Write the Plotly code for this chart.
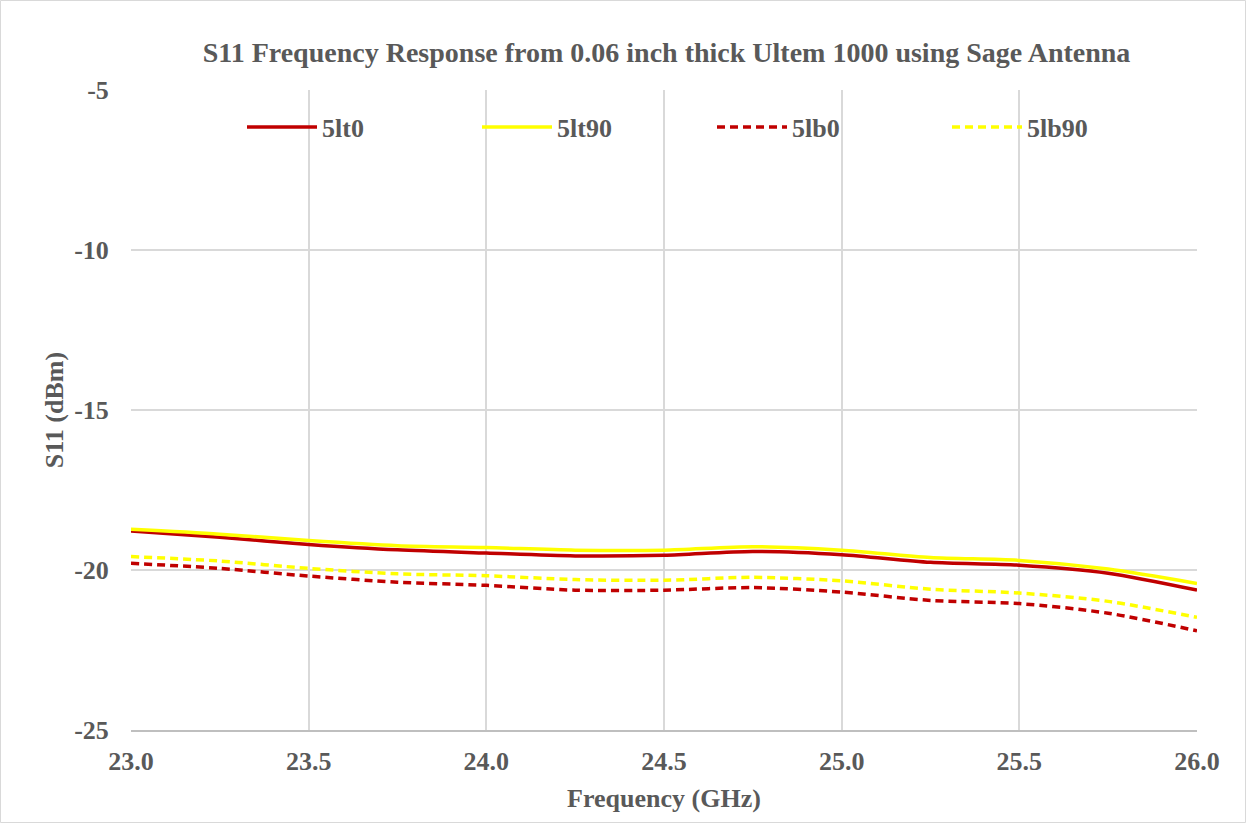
import plotly.graph_objects as go

freq = [23.0, 23.25, 23.5, 23.75, 24.0, 24.25, 24.5, 24.75, 25.0, 25.25, 25.5, 25.75, 26.0]
s11_5lt0 = [-18.78, -18.98, -19.20, -19.37, -19.47, -19.56, -19.54, -19.42, -19.52, -19.76, -19.85, -20.10, -20.63]
s11_5lt90 = [-18.73, -18.88, -19.08, -19.24, -19.30, -19.38, -19.38, -19.27, -19.38, -19.61, -19.70, -19.97, -20.42]
s11_5lb0 = [-19.79, -19.95, -20.19, -20.38, -20.48, -20.63, -20.63, -20.55, -20.69, -20.95, -21.05, -21.35, -21.90]
s11_5lb90 = [-19.58, -19.72, -19.95, -20.12, -20.18, -20.30, -20.32, -20.23, -20.34, -20.60, -20.72, -20.98, -21.48]

series_names = ["5lt0", "5lt90", "5lb0", "5lb90"]
x_ticks = [23.0, 23.5, 24.0, 24.5, 25.0, 25.5, 26.0]
y_ticks = [-25, -20, -15, -10, -5]

RED = "#C00000"
YEL = "#FFFF00"
GREY = "#595959"
FONT = "Liberation Serif"

styles = [
    dict(color=RED, width=3.5, dash="solid"),
    dict(color=YEL, width=3.5, dash="solid"),
    dict(color=RED, width=3.5, dash="8px,5px"),
    dict(color=YEL, width=3.5, dash="8px,5px"),
]
data = [s11_5lt0, s11_5lt90, s11_5lb0, s11_5lb90]

fig = go.Figure()
for name, ys, st in zip(series_names, data, styles):
    fig.add_trace(go.Scatter(x=freq, y=ys, name=name, mode="lines",
                             line=dict(shape="spline", smoothing=0.8, **st)))

W, H = 1247, 824
L, R, T, B = 131, 50, 90, 94
pw, ph = W - L - R, H - T - B

fig.update_layout(
    width=W, height=H,
    margin=dict(l=L, r=R, t=T, b=B),
    paper_bgcolor="white", plot_bgcolor="white",
    font=dict(family=FONT, color=GREY, size=26, weight="bold"),
    title=dict(text="S11 Frequency Response from 0.06 inch thick Ultem 1000 using Sage Antenna",
               x=666.5 / W, xanchor="center", y=1 - 52 / H, yanchor="middle",
               font=dict(family=FONT, size=28, color=GREY, weight="bold")),
    showlegend=True,
    legend=dict(orientation="h", x=(242 - L) / pw, xanchor="left", y=1 - (127 - T) / ph, yanchor="middle",
                bgcolor="rgba(0,0,0,0)", itemwidth=70, entrywidth=150, entrywidthmode="pixels",
                font=dict(family=FONT, size=26, color=GREY, weight="bold"),
                traceorder="normal"),
    xaxis=dict(range=[23.0, 26.0], tickvals=x_ticks, ticktext=[f"{v:.1f}" for v in x_ticks],
               showgrid=True, gridcolor="#D9D9D9", gridwidth=1.5,
               showline=True, linecolor="#BFBFBF", linewidth=1.5,
               ticks="outside", ticklen=7, tickcolor="rgba(0,0,0,0)",
               zeroline=False, tickfont=dict(size=26),
               title=dict(text="Frequency (GHz)", standoff=14,
                          font=dict(family=FONT, size=26, color=GREY, weight="bold"))),
    yaxis=dict(range=[-25, -5], tickvals=y_ticks, ticktext=[str(v) for v in y_ticks],
               showgrid=True, gridcolor="#D9D9D9", gridwidth=1.5,
               showline=False, zeroline=False, tickfont=dict(size=26),
               ticks="outside", ticklen=16, tickcolor="rgba(0,0,0,0)",
               title=dict(text="S11 (dBm)", standoff=3,
                          font=dict(family=FONT, size=26, color=GREY, weight="bold"))),
)

# hide the top gridline (the reference has none at -5)
fig.add_shape(type="line", xref="paper", yref="y", x0=0.003, x1=0.997, y0=-5, y1=-5,
              line=dict(color="white", width=3), layer="between")
# outer chart border
fig.add_shape(type="rect", xref="paper", yref="paper",
              x0=(-L + 0.5) / pw, x1=(pw + R - 1.5) / pw,
              y0=(-B + 1.5) / ph, y1=(ph + T - 0.5) / ph,
              line=dict(color="#D9D9D9", width=1), fillcolor="rgba(0,0,0,0)", layer="below")

fig.write_html("out.html", config={"displayModeBar": False},
               post_script="document.body.style.margin='0px';document.body.style.padding='0px';")
